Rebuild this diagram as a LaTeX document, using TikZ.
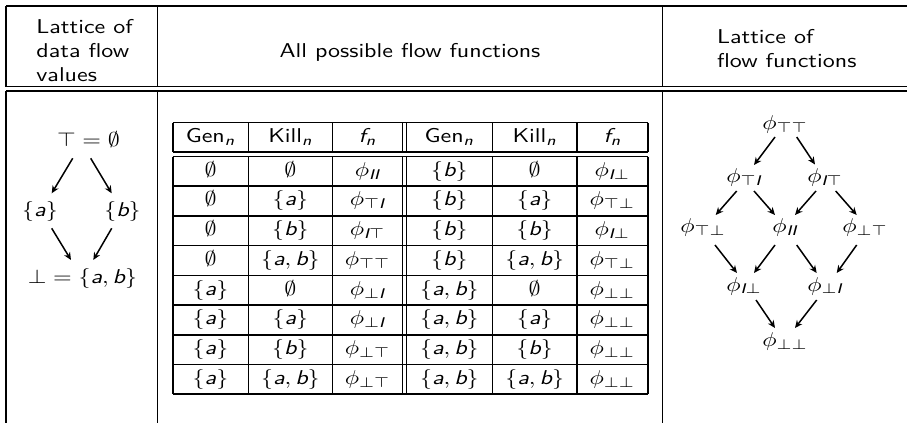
\documentclass[tikz,border=0pt]{standalone}
\usepackage{amsmath}
\usepackage{graphicx}
\usetikzlibrary{arrows.meta,calc}
\renewcommand{\familydefault}{\sfdefault}
\newcommand{\zs}[1]{\scalebox{1.2}[1]{#1}}
\newcommand{\zv}[1]{\text{\sffamily\itshape #1}}
\newcommand{\zI}{\zv{I}}
\newcommand{\zE}{$\emptyset$}
\newcommand{\zA}{$\{\zv{a}\}$}
\newcommand{\zB}{$\{\zv{b}\}$}
\newcommand{\zAB}{$\{\zv{a}, \zv{b}\}$}
\newcommand{\zP}[1]{$\phi_{#1}$}
\begin{document}
\begin{tikzpicture}[x=0.5pt,y=-0.5pt,
  frame/.style={line width=0.8pt},
  arr/.style={line width=0.75pt,-{Stealth[length=3.8pt,width=3.4pt]}},
  cell/.style={anchor=base,inner sep=0pt,font=\sffamily},
  hdr/.style={anchor=base west,inner sep=0pt,font=\sffamily}]
\useasboundingbox (0,0) rectangle (907,423);
% outer frame
\draw[frame] (6,6) -- (907,6);
\draw[frame] (6,86.5) -- (907,86.5);
\draw[frame] (6,91) -- (907,91);
\foreach \xx in {6,157.3,662.3}{
  \draw[frame] (\xx,6) -- (\xx,86.5);
  \draw[frame] (\xx,91) -- (\xx,423);
}
% header texts
\node[hdr] (h1) at (36,33.3) {\zs{\begin{tabular}[t]{@{}l@{}}Lattice of\\data flow\\values\end{tabular}}};
\node[cell] (h2) at (410,57.7) {\zs{All possible flow functions}};
\node[hdr] (h3) at (716.7,43.3) {\zs{\begin{tabular}[t]{@{}l@{}}Lattice of\\flow functions\end{tabular}}};
% inner table rules
\draw[frame] (172.7,122.5) -- (647.7,122.5);
\draw[frame] (172.7,152) -- (647.7,152);
\foreach \k in {0,...,8}{
  \draw[frame] (172.7,156.5+29.7*\k) -- (647.7,156.5+29.7*\k);
}
\foreach \xx in {172.7,248.3,332.5,402.5,406.5,492.3,577,647.7}{
  \draw[frame] (\xx,122.5) -- (\xx,152);
  \draw[frame] (\xx,156.5) -- (\xx,394.1);
}
% inner table header
\node[cell] (g1) at (210.5,142) {\zs{Gen$_{\zv{n}}$}};
\node[cell] (k1) at (290.4,142) {\zs{Kill$_{\zv{n}}$}};
\node[cell] (f1) at (367.5,142) {\zs{$\zv{f}_{\zv{n}}$}};
\node[cell] (g2) at (449.4,142) {\zs{Gen$_{\zv{n}}$}};
\node[cell] (k2) at (534.7,142) {\zs{Kill$_{\zv{n}}$}};
\node[cell] (f2) at (612.4,142) {\zs{$\zv{f}_{\zv{n}}$}};
% inner table body
\foreach \ca/\cb/\cc/\cd/\ce/\cf [count=\r] in {
  \zE/\zE/{\zP{\zI\zI}}/\zB/\zE/{\zP{\zI\bot}},
  \zE/\zA/{\zP{\top\zI}}/\zB/\zA/{\zP{\top\bot}},
  \zE/\zB/{\zP{\zI\top}}/\zB/\zB/{\zP{\zI\bot}},
  \zE/\zAB/{\zP{\top\top}}/\zB/\zAB/{\zP{\top\bot}},
  \zA/\zE/{\zP{\bot\zI}}/\zAB/\zE/{\zP{\bot\bot}},
  \zA/\zA/{\zP{\bot\zI}}/\zAB/\zA/{\zP{\bot\bot}},
  \zA/\zB/{\zP{\bot\top}}/\zAB/\zB/{\zP{\bot\bot}},
  \zA/\zAB/{\zP{\bot\top}}/\zAB/\zAB/{\zP{\bot\bot}}}{
  \pgfmathsetmacro{\yb}{156.5+29.7*\r-10}
  \node[cell] (r\r c1) at (210.5,\yb) {\zs{\ca}};
  \node[cell] (r\r c2) at (290.4,\yb) {\zs{\cb}};
  \node[cell] (r\r c3) at (367.5,\yb) {\zs{\cc}};
  \node[cell] (r\r c4) at (449.4,\yb) {\zs{\cd}};
  \node[cell] (r\r c5) at (534.7,\yb) {\zs{\ce}};
  \node[cell] (r\r c6) at (612.4,\yb) {\zs{\cf}};
}
% lattice of data flow values
\node[cell] (vt) at (88.5,146.7) {\zs{$\top = \emptyset$}};
\node[cell] (va) at (40,216) {\zs{\zA}};
\node[cell] (vb) at (122.5,216) {\zs{\zB}};
\node[cell] (vbot) at (82.5,283) {\zs{$\bot = \{\zv{a}, \zv{b}\}$}};
\draw[arr] ($(vt.base)+(-15.8,11.6)$) -- ($(va.base)+(11.7,-22.7)$);
\draw[arr] ($(vt.base)+(2.2,11.6)$) -- ($(vb.base)+(-10.8,-22.7)$);
\draw[arr] ($(va.base)+(11.7,12.3)$) -- ($(vbot.base)+(-11.5,-23)$);
\draw[arr] ($(vb.base)+(-10.8,12.3)$) -- ($(vbot.base)+(10.8,-23)$);
% lattice of flow functions
\node[cell] (tt) at (785,129.5) {\zs{\zP{\top\top}}};
\node[cell] (ti) at (744,182.5) {\zs{\zP{\top\zI}}};
\node[cell] (it) at (825,182.5) {\zs{\zP{\zI\top}}};
\node[cell] (tb) at (703,232.5) {\zs{\zP{\top\bot}}};
\node[cell] (ii) at (785,232.5) {\zs{\zP{\zI\zI}}};
\node[cell] (bt) at (865,232.5) {\zs{\zP{\bot\top}}};
\node[cell] (ib) at (744,291) {\zs{\zP{\zI\bot}}};
\node[cell] (bi) at (825,291) {\zs{\zP{\bot\zI}}};
\node[cell] (bb) at (785,346) {\zs{\zP{\bot\bot}}};
\draw[arr] ($(tt.base)+(-10,7.5)$) -- ($(ti.base)+(10,-17.5)$);
\draw[arr] ($(tt.base)+(11.7,7.5)$) -- ($(it.base)+(-10,-18)$);
\draw[arr] ($(ti.base)+(-7.3,8.5)$) -- ($(tb.base)+(12.7,-17.5)$);
\draw[arr] ($(ti.base)+(10,8.5)$) -- ($(ii.base)+(-10,-17.5)$);
\draw[arr] ($(it.base)+(-9,8.5)$) -- ($(ii.base)+(10,-17.5)$);
\draw[arr] ($(it.base)+(10.7,8.5)$) -- ($(bt.base)+(-8.3,-17.5)$);
\draw[arr] ($(tb.base)+(12,12.5)$) -- ($(ib.base)+(-7,-18)$);
\draw[arr] ($(ii.base)+(-10,12.5)$) -- ($(ib.base)+(10,-18)$);
\draw[arr] ($(ii.base)+(11.7,12.5)$) -- ($(bi.base)+(-8.3,-18)$);
\draw[arr] ($(bt.base)+(-8.3,12.5)$) -- ($(bi.base)+(11.7,-18)$);
\draw[arr] ($(ib.base)+(12,9)$) -- ($(bb.base)+(-10,-18)$);
\draw[arr] ($(bi.base)+(-8.3,9)$) -- ($(bb.base)+(10,-18)$);
\end{tikzpicture}
\end{document}
